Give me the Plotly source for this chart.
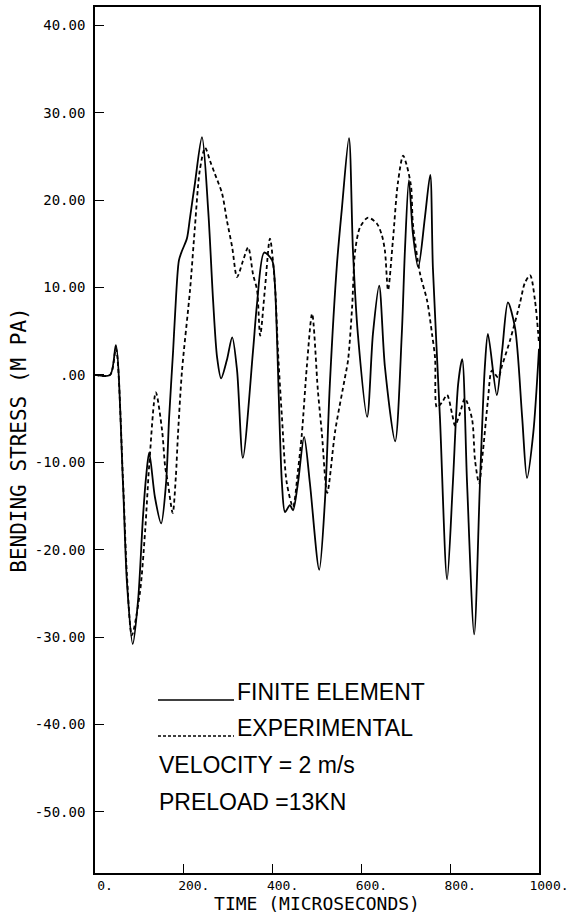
import plotly.graph_objects as go

# ---- data ----
fe_time = [0, 34, 47, 63, 72, 85, 97, 108, 115, 122, 135, 149, 160, 167, 176, 180, 189, 196, 207,
           214, 225, 241, 255, 266, 275, 284, 297, 309, 320, 333, 356, 365, 381, 399, 405, 421,
           428, 439, 446, 457, 471, 484, 505, 518, 529, 545, 556, 572, 581, 592, 613, 626, 640,
           653, 676, 691, 698, 707, 716, 728, 743, 755, 761, 777, 793, 806, 818, 827, 838, 854,
           867, 878, 885, 905, 917, 930, 946, 962, 973, 987, 1000]
fe_stress = [0, 0, 3.4, -12.4, -23.8, -30.8, -25.8, -16.3, -11.7, -8.9, -14.0, -17.0, -12.4, -4.8,
             2.8, 6.6, 13.1, 14.2, 15.6, 18.0, 21.9, 27.2, 18.8, 8.5, 2.0, -0.4, 1.7, 4.3, 0.5,
             -9.5, 2.8, 8.2, 14.0, 13.1, 10.5, -12.4, -15.7, -14.9, -15.5, -12.4, -7.1, -12.4,
             -22.3, -14.3, -1.0, 12.7, 19.0, 27.1, 14.2, 4.7, -4.8, 4.7, 10.2, 0.9, -7.6, 4.7,
             14.2, 22.3, 16.2, 12.3, 18.0, 22.9, 12.3, -5.0, -23.4, -12.4, -1.0, 1.8, -12.4,
             -29.7, -12.4, 0.9, 4.7, -2.3, 2.8, 8.3, 5.4, -4.8, -11.8, -6.7, 3.0]

exp_time = [0, 34, 47, 63, 72, 83, 101, 113, 122, 137, 151, 158, 164, 175, 182, 187, 196, 214,
            225, 236, 248, 259, 270, 286, 297, 309, 320, 333, 345, 356, 365, 372, 383, 394, 405,
            412, 421, 432, 446, 457, 466, 477, 489, 502, 511, 523, 541, 563, 570, 579, 586, 597,
            615, 635, 646, 653, 660, 671, 682, 694, 703, 712, 716, 732, 748, 759, 766, 770, 782,
            793, 804, 811, 822, 833, 849, 856, 865, 874, 885, 894, 908, 917, 935, 957, 968, 980,
            991, 1000]
exp_stress = [0, 0, 3.0, -12.0, -23.0, -29.8, -25.0, -17.8, -10.4, -2.0, -6.3, -10.5, -12.3, -15.8,
              -11.7, -6.7, 0.5, 9.7, 16.9, 23.4, 26.0, 24.5, 23.0, 20.8, 17.7, 14.6, 11.2, 13.0,
              14.6, 11.5, 9.7, 4.5, 10.0, 15.6, 10.5, 2.8, -4.8, -12.4, -15.1, -11.0, -6.7, 0.9,
              7.0, -1.8, -6.7, -13.5, -6.4, -0.3, 1.7, 7.7, 14.2, 16.9, 18.0, 17.3, 16.0, 14.2,
              9.7, 15.4, 21.9, 25.1, 23.8, 21.5, 17.3, 11.6, 8.5, 4.7, 1.9, -3.7, -3.1, -2.3, -4.4,
              -5.8, -4.4, -2.7, -5.0, -9.8, -12.4, -8.6, -2.9, 0.5, -0.3, 1.1, 4.0, 8.2, 10.5,
              11.4, 8.5, 3.6]

x_tick_vals = [0, 200, 400, 600, 800, 1000]
x_tick_text = ["0.", "200.", "400.", "600.", "800.", "1000."]
y_tick_vals = [40, 30, 20, 10, 0, -10, -20, -30, -40, -50]
y_tick_text = ["40.00", "30.00", "20.00", "10.00", ".00", "-10.00", "-20.00", "-30.00",
               "-40.00", "-50.00"]

legend_names = ["FINITE ELEMENT", "EXPERIMENTAL"]
info_lines = ["VELOCITY = 2 m/s", "PRELOAD =13KN"]

# ---- figure ----
W, H = 568, 918
L, R, T, B = 95, 29, 7, 45
pw, ph = W - L - R, H - T - B


def px(x):
    return (x - L) / pw


def py(y):
    return (H - B - y) / ph


fig = go.Figure()
fig.add_trace(go.Scatter(x=fe_time, y=fe_stress, mode="lines", name=legend_names[0],
                         line=dict(color="black", width=1.8, shape="spline", smoothing=0.8)))
fig.add_trace(go.Scatter(x=exp_time, y=exp_stress, mode="lines", name=legend_names[1],
                         line=dict(color="black", width=1.8, dash="4px,3px",
                                   shape="spline", smoothing=0.8)))

mono = "DejaVu Sans Mono"
fig.update_layout(
    width=W, height=H,
    margin=dict(l=L, r=R, t=T, b=B, autoexpand=False),
    paper_bgcolor="white", plot_bgcolor="white",
    showlegend=False,
    font=dict(family=mono, color="black"),
    xaxis=dict(range=[0, 1000], tickvals=x_tick_vals, ticktext=x_tick_text,
               ticks="inside", ticklen=9, tickwidth=1.3, tickcolor="black",
               showline=True, mirror=True, linecolor="black", linewidth=1.6,
               showgrid=False, zeroline=False, automargin=False,
               ticklabeloverflow="allow",
               tickfont=dict(family=mono, size=13), ticklabelshift=10, ticklabelstandoff=0,
               title=dict(text="TIME (MICROSECONDS)", font=dict(family=mono, size=18),
                          standoff=0)),
    yaxis=dict(range=[-57, 42.1], tickvals=y_tick_vals, ticktext=y_tick_text,
               ticks="inside", ticklen=9, tickwidth=1.3, tickcolor="black",
               showline=True, mirror=True, linecolor="black", linewidth=1.6,
               showgrid=False, zeroline=False, automargin=False,
               ticklabeloverflow="allow",
               tickfont=dict(family=mono, size=14), ticklabelstandoff=5,
               title=dict(text="BENDING STRESS (M PA)", font=dict(family=mono, size=21),
                          standoff=2)),
)

# legend-like sample lines
fig.add_shape(type="line", xref="paper", yref="paper", x0=px(158), x1=px(234),
              y0=py(700), y1=py(700), line=dict(color="black", width=1.3))
fig.add_shape(type="line", xref="paper", yref="paper", x0=px(158), x1=px(234),
              y0=py(736), y1=py(736), line=dict(color="black", width=1.3, dash="3px,2px"))

sans = "Liberation Sans"
texts = [(235, 692, legend_names[0]), (235, 728, legend_names[1]),
         (157, 765, info_lines[0]), (157, 802, info_lines[1])]
for x0, y0, t in texts:
    fig.add_annotation(x=px(x0), y=py(y0), xref="paper", yref="paper", text=t,
                       showarrow=False, xanchor="left", yanchor="middle",
                       font=dict(family=sans, size=23, color="black"))

fig.write_html("out.html")
